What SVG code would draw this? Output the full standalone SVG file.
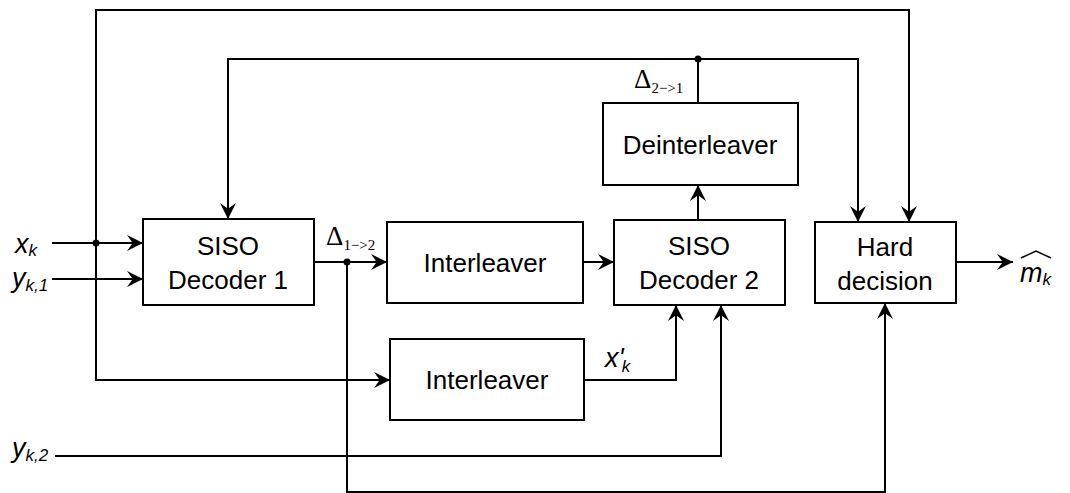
<svg xmlns="http://www.w3.org/2000/svg" width="1070" height="493" viewBox="0 0 1070 493">
<style>
.box{fill:#fff;stroke:#000;stroke-width:2}
.lbl{font-family:"Liberation Sans",Arial,sans-serif;font-size:26px;fill:#000;text-anchor:middle}
.var{font-family:"Liberation Sans",Arial,sans-serif;font-size:27px;font-style:italic;fill:#000}
.sub{font-size:17px}
.dl{font-family:"Liberation Serif","Times New Roman",serif;font-size:27px;fill:#000}
.dsub{font-size:15px}
.wire{fill:none;stroke:#000;stroke-width:2}
.arr{marker-end:url(#ah)}
.dot{fill:#000}
</style>
<defs>
<marker id="ah" markerUnits="userSpaceOnUse" markerWidth="16" markerHeight="16" viewBox="0 0 14 14" refX="14" refY="7" orient="auto">
<path d="M0,0 L14,7 L0,14 L5,7 Z" fill="#000"/>
</marker>
</defs>
<g id="connectors">
<path class="wire arr" d="M52,243 H143"/>
<path class="wire arr" d="M52,279 H143"/>
<path class="wire arr" d="M96,243 V10 H909 V222"/>
<path class="wire arr" d="M96,243 V380 H390"/>
<path class="wire arr" d="M314,262 H387"/>
<path class="wire arr" d="M347,262 V492 H885 V303"/>
<path class="wire arr" d="M583,262 H614"/>
<path class="wire arr" d="M698,220 V185"/>
<path class="wire" d="M698,103 V59"/>
<path class="wire arr" d="M698,59 H228 V219"/>
<path class="wire arr" d="M698,59 H858 V222"/>
<path class="wire arr" d="M584,380 H676 V305"/>
<path class="wire arr" d="M55,456 H721 V305"/>
<path class="wire arr" d="M956,262 H1013"/>
<circle class="dot" cx="96" cy="243" r="3.5"/>
<circle class="dot" cx="347" cy="262" r="3.5"/>
<circle class="dot" cx="698" cy="59" r="3.5"/>
</g>
<g id="siso1">
<rect class="box" x="143" y="219" width="171" height="86"/>
<text class="lbl" x="228" y="255">SISO</text>
<text class="lbl" x="228" y="289">Decoder 1</text>
</g>
<g id="interleaver1">
<rect class="box" x="387" y="222" width="196" height="81"/>
<text class="lbl" x="485" y="272">Interleaver</text>
</g>
<g id="siso2">
<rect class="box" x="614" y="220" width="171" height="85"/>
<text class="lbl" x="699" y="255">SISO</text>
<text class="lbl" x="699" y="289">Decoder 2</text>
</g>
<g id="deinterleaver">
<rect class="box" x="603" y="103" width="195" height="82"/>
<text class="lbl" x="700" y="154">Deinterleaver</text>
</g>
<g id="harddecision">
<rect class="box" x="815" y="222" width="141" height="81"/>
<text class="lbl" x="885" y="256">Hard</text>
<text class="lbl" x="885" y="290">decision</text>
</g>
<g id="interleaver2">
<rect class="box" x="390" y="339" width="194" height="81"/>
<text class="lbl" x="487" y="389">Interleaver</text>
</g>
<g id="labels">
<text class="var" x="15" y="253">x<tspan class="sub" dy="3">k</tspan></text>
<text class="var" x="12" y="287">y<tspan class="sub" dy="4">k,1</tspan></text>
<text class="var" x="12" y="457">y<tspan class="sub" dy="4">k,2</tspan></text>
<text class="var" x="605" y="367">x'<tspan class="sub" dy="5" dx="-2">k</tspan></text>
<text class="var" x="1020" y="282">m<tspan class="sub" dy="3">k</tspan></text>
<path d="M1021,258 L1036,251 L1051,258" fill="none" stroke="#000" stroke-width="1.5"/>
<text class="dl" x="326" y="245">Δ<tspan class="dsub" dy="5">1−&gt;2</tspan></text>
<text class="dl" x="634" y="88">Δ<tspan class="dsub" dy="5">2−&gt;1</tspan></text>
</g>
</svg>
